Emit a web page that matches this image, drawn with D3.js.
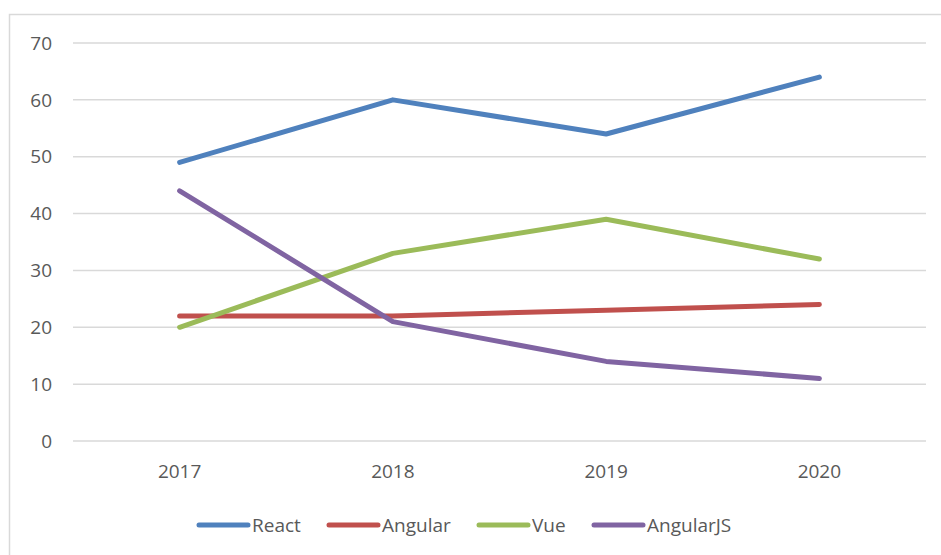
<!DOCTYPE html>
<html lang="en">
<head>
    <meta charset="UTF-8">
    <title>Frameworks</title>
    <style>
        body { margin: 0; background: #fff; }
        text { font-family: "Open Sans", "Liberation Sans", sans-serif; fill: #595959; }
    </style>
</head>
<body>
<script src="https://d3js.org/d3.v7.min.js"></script>
<script>
    // data
    var years = ["2017", "2018", "2019", "2020"];
    var react = [49, 60, 54, 64];
    var angular = [22, 22, 23, 24];
    var vue = [20, 33, 39, 32];
    var angularJS = [44, 21, 14, 11];
    var yTicks = [0, 10, 20, 30, 40, 50, 60, 70];

    var series = [
        {name: "React", values: react, color: "#4f81bd"},
        {name: "Angular", values: angular, color: "#c0504d"},
        {name: "Vue", values: vue, color: "#9bbb59"},
        {name: "AngularJS", values: angularJS, color: "#8064a2"}
    ];

    var width = 941, height = 555;
    var svg = d3.select("body")
                .append("svg")
                .attr("width", width)
                .attr("height", height);

    // outer chart frame (runs off the right and bottom edge)
    svg.append("rect")
        .attr("x", 9.5)
        .attr("y", 14.5)
        .attr("width", 960)
        .attr("height", 600)
        .attr("fill", "none")
        .attr("stroke", "#d9d9d9")
        .attr("stroke-width", 1.5);

    var x = d3.scalePoint()
              .domain(years)
              .range([73, 926])
              .padding(0.5);
    var y = d3.scaleLinear()
              .domain([0, 70])
              .range([441, 43]);

    // gridlines
    svg.append("g")
        .selectAll("line")
        .data(yTicks)
        .join("line")
        .attr("x1", 73)
        .attr("x2", 926)
        .attr("y1", d => y(d))
        .attr("y2", d => y(d))
        .attr("stroke", "#d9d9d9")
        .attr("stroke-width", 1.5);

    // y labels
    svg.append("g")
        .selectAll("text")
        .data(yTicks)
        .join("text")
        .attr("x", 52)
        .attr("y", d => y(d))
        .attr("dy", "0.35em")
        .attr("text-anchor", "end")
        .attr("font-size", 19)
        .text(d => d);

    // x labels
    svg.append("g")
        .selectAll("text")
        .data(years)
        .join("text")
        .attr("x", d => x(d))
        .attr("y", 471)
        .attr("dy", "0.35em")
        .attr("text-anchor", "middle")
        .attr("font-size", 19)
        .text(d => d);

    var line = d3.line()
                 .x((d, i) => x(years[i]))
                 .y(d => y(d));

    svg.append("g")
        .selectAll("path")
        .data(series)
        .join("path")
        .attr("d", d => line(d.values))
        .attr("fill", "none")
        .attr("stroke", d => d.color)
        .attr("stroke-width", 5)
        .attr("stroke-linecap", "round")
        .attr("stroke-linejoin", "round");

    // legend
    var legendX = [197, 327, 477, 592];
    var legend = svg.append("g")
        .selectAll("g")
        .data(series)
        .join("g")
        .attr("transform", (d, i) => "translate(" + legendX[i] + ",525)");
    legend.append("line")
        .attr("x1", 2)
        .attr("x2", 51)
        .attr("stroke", d => d.color)
        .attr("stroke-width", 5)
        .attr("stroke-linecap", "round");
    legend.append("text")
        .attr("x", 55)
        .attr("dy", "0.35em")
        .attr("font-size", 19)
        .text(d => d.name);
</script>
</body>
</html>
